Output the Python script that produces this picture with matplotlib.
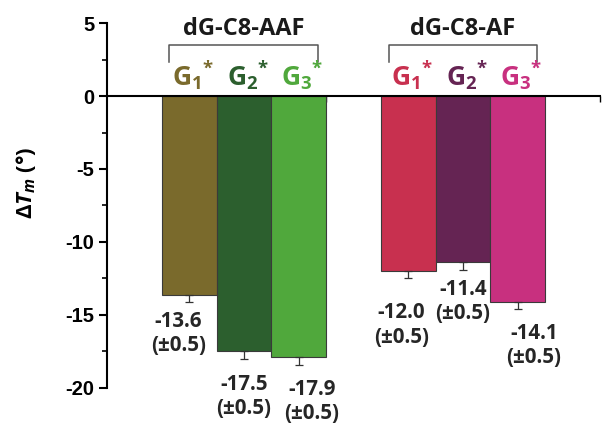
import numpy as np
import matplotlib
matplotlib.use("Agg")
import matplotlib.pyplot as plt

plt.rcParams['font.family'] = ['Open Sans', 'DejaVu Sans']
plt.rcParams['axes.unicode_minus'] = False
plt.rcParams['mathtext.fontset'] = 'custom'
plt.rcParams['mathtext.rm'] = 'Open Sans:bold'
plt.rcParams['mathtext.it'] = 'Open Sans:bold:italic'
plt.rcParams['mathtext.bf'] = 'Open Sans:bold'

# data
groups = ["dG-C8-AAF", "dG-C8-AF"]
bar_names = ["1", "2", "3", "1", "2", "3"]
values = [-13.6, -17.5, -17.9, -12.0, -11.4, -14.1]
errors = [0.5, 0.5, 0.5, 0.5, 0.5, 0.5]
colors = ["#7a6a2c", "#2c5f2e", "#50a83c", "#c8304f", "#652453", "#c8307f"]
yticks = [5, 0, -5, -10, -15, -20]

# layout
xpos = [1.5, 2.5, 3.5, 5.5, 6.5, 7.5]
lab_dx = [-11, 0, 13, -7, 0, 16]      # pixels
lab_dy = [-9, -15, -14, -24, -9, -14]

fig = plt.figure(figsize=(6.02, 4.30), dpi=100)
ax = fig.add_axes([0.1777, 0.0977, 0.819, 0.8488])

ax.bar(xpos, values, width=1.0, color=colors, edgecolor="#3a3a3a", linewidth=0.8, zorder=2)
ax.errorbar(xpos, values, yerr=[errors, [0] * 6], fmt="none", ecolor="#333333",
            elinewidth=0.9, capsize=3, capthick=0.9, zorder=3)

for x, v, e, dx, dy in zip(xpos, values, errors, lab_dx, lab_dy):
    ax.annotate(f"{v:.1f}\n(±{e})", (x, v - e), xytext=(dx, dy), textcoords="offset pixels",
                ha="center", va="top", fontsize=14.8, fontweight="bold", color="#262626",
                linespacing=1.2, annotation_clip=False)

# G labels
for x, n, c in zip(xpos, bar_names, colors):
    ax.text(x + 0.07, 0.75, r"$\mathrm{G}_{" + n + r"}{}^{*}$", color=c, fontsize=19,
            ha="center", va="baseline", clip_on=False)

# group titles and brackets
for i, g in enumerate(groups):
    x0 = xpos[3 * i] - 0.5
    x1 = xpos[3 * i + 2] + 0.5
    ax.text((x0 + x1) / 2, 4.18, g, ha="center", va="baseline", fontsize=17,
            fontweight="bold", color="#1a1a1a", clip_on=False)
    ax.plot([x0 + 0.14, x0 + 0.14, x1 - 0.15, x1 - 0.15], [2.33, 3.49, 3.49, 2.33],
            color="#555555", lw=1.1, solid_joinstyle="round", clip_on=False)

ax.set_xlim(0, 9)
ax.set_ylim(-20, 5)
ax.spines['top'].set_visible(False)
ax.spines['right'].set_visible(False)
ax.spines['bottom'].set_position(('data', 0))
ax.spines['bottom'].set_linewidth(1.5)
ax.spines['left'].set_linewidth(1.5)
ax.spines['bottom'].set_zorder(4)

ax.set_xticks([4, 9])
ax.set_xticklabels([])
ax.tick_params(axis='x', direction='out', length=4, width=1)

ax.set_yticks(yticks, labels=[str(t) for t in yticks], fontfamily='Liberation Sans',
              fontweight='bold', fontsize=14.5)
ax.set_yticks([2.5, -2.5, -7.5, -12.5, -17.5], minor=True)
ax.tick_params(axis='y', which='major', direction='out', length=6, width=1.5, pad=3)
ax.tick_params(axis='y', which='minor', direction='out', length=3.5, width=1.2)

fig.text(26 / 602, 1 - 183 / 430, r"$\mathit{\Delta T_m}$ (°)", rotation=90, ha="center",
         va="center", fontsize=16, fontweight="bold")

fig.savefig("out.png", dpi=100)
